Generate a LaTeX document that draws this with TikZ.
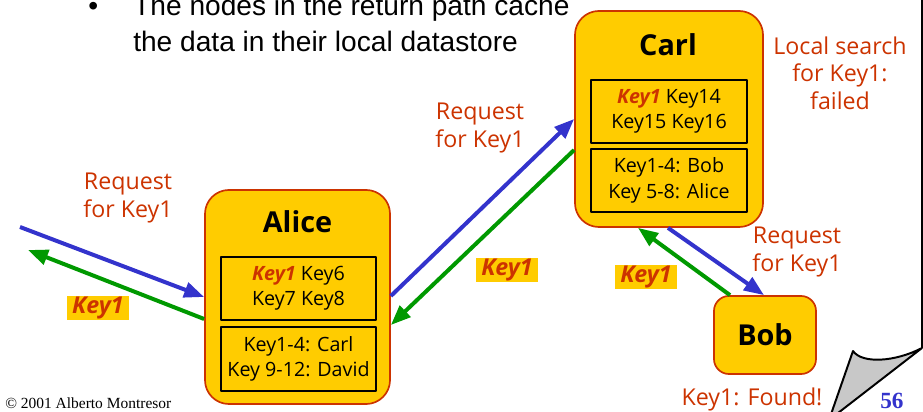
\documentclass[tikz,border=0pt]{standalone}
\usepackage{fontspec}
\setmainfont{Open Sans}
\newfontfamily\arialfont{Liberation Sans}
\newfontfamily\timesfont{Liberation Serif}
\usetikzlibrary{arrows.meta}
\definecolor{gold}{HTML}{FFCC00}
\definecolor{rust}{HTML}{CC3300}
\definecolor{reqblue}{HTML}{3333CC}
\definecolor{ansgreen}{HTML}{009900}
\definecolor{curlgray}{HTML}{C8C8C8}
\newcommand{\keyone}{\textcolor{rust}{\textbf{\textit{Key1}}}}
\begin{document}
\begin{tikzpicture}[x=0.025cm, y=-0.025cm, >={Triangle[length=0.5cm,width=0.38cm]}, line join=round,
	peer/.style={draw=rust, line width=1.2pt, fill=gold, rounded corners=0.6cm, inner sep=0pt},
	table/.style={draw=black, line width=1.2pt, minimum width=3.875cm, minimum height=1.575cm, inner sep=0pt, align=center, font=\fontsize{14}{18}\selectfont},
	peername/.style={font=\fontsize{20.5}{24}\selectfont\bfseries},
	note/.style={text=rust, align=center, font=\fontsize{16.5}{19.5}\selectfont},
	reply/.style={fill=gold, text=rust, minimum width=1.525cm, minimum height=0.6cm, inner sep=0pt, font=\fontsize{16.5}{19.5}\selectfont\bfseries\itshape},
	req/.style={->, draw=reqblue, line width=0.1cm},
	ans/.style={->, draw=ansgreen, line width=0.1cm},
	slide/.style={anchor=base west, inner sep=0pt}]
	\useasboundingbox (0,0) rectangle (923,412);
	\clip (0,0) rectangle (923,412);
	
	% slide text
	\node[slide, font=\arialfont\fontsize{20}{24}\selectfont] (bullet) at (88,16) {•};
	\node[slide, font=\arialfont\fontsize{20}{24}\selectfont] (line1) at (133,16) {The nodes in the return path cache};
	\node[slide, font=\arialfont\fontsize{20}{24}\selectfont] (line2) at (133,52) {the data in their local datastore};
	
	% peers
	\node[peer, minimum width=4.625cm, minimum height=5.35cm] (alice) at (297.5,297) {};
	\node[peername] (alicename) at (297.5,222) {Alice};
	\node[table] (alicekeys) at (298.5,288.5) {\keyone\ Key6\\Key7 Key8};
	\node[table, minimum height=1.6cm] (aliceroutes) at (298.5,359) {Key1-4: Carl\\Key 9-12: David};
	
	\node[peer, minimum width=4.7cm, minimum height=5.4cm] (carl) at (669,119) {};
	\node[peername] (carlname) at (668,45) {Carl};
	\node[table, minimum width=3.9cm] (carlkeys) at (669,111.5) {\keyone\ Key14\\Key15 Key16};
	\node[table, minimum width=3.9cm] (carlroutes) at (669,180.5) {Key1-4: Bob\\Key 5-8: Alice};
	
	\node[peer, peername, rounded corners=0.375cm, minimum width=2.55cm, minimum height=1.95cm] (bob) at (765,335) {Bob};
	
	% labels
	\node[note] (reqa) at (128,198) {Request\\for Key1};
	\node[note] (reqc) at (480,128) {Request\\for Key1};
	\node[note] (reqb) at (797,252) {Request\\for Key1};
	\node[note] (search) at (840,73) {Local search\\for Key1:\\failed};
	\node[note] (found) at (752,399) {Key1: Found!};
	\node[reply] (replya) at (98,308) {Key1};
	\node[reply] (replyc) at (507,270) {Key1};
	\node[reply] (replyb) at (646,277) {Key1};
	
	% messages
	\coordinate (inreq) at (20,227);
	\coordinate (outans) at (28,250);
	\draw[req] (inreq) -- (alice.west |- 0,297);
	\draw[ans] (alice.west |- 0,319) -- (outans);
	\draw[req] (alice.east |- 0,296) -- (carl.west |- 0,119);
	\draw[ans] (carl.west |- 0,150) -- (alice.east |- 0,325);
	\draw[req] (carl.south -| 668,0) -- (bob.north -| 764,0);
	\draw[ans] (bob.north -| 730,0) -- (carl.south -| 638,0);
	
	% footer and page curl
	\node[slide, font=\timesfont\fontsize{11}{13}\selectfont] (copyright) at (5,409) {© 2001 Alberto Montresor};
	\node[slide, font=\timesfont\bfseries\fontsize{16.5}{20}\selectfont, text=reqblue] (pagenum) at (880,409) {56};
	\draw[line width=1.4pt] (922,-5) -- (922,348);
	\draw[line width=1.4pt, fill=curlgray] (853,351) .. controls (862,364) and (895,362) .. (922,348) -- (829,420) -- cycle;
\end{tikzpicture}
\end{document}
